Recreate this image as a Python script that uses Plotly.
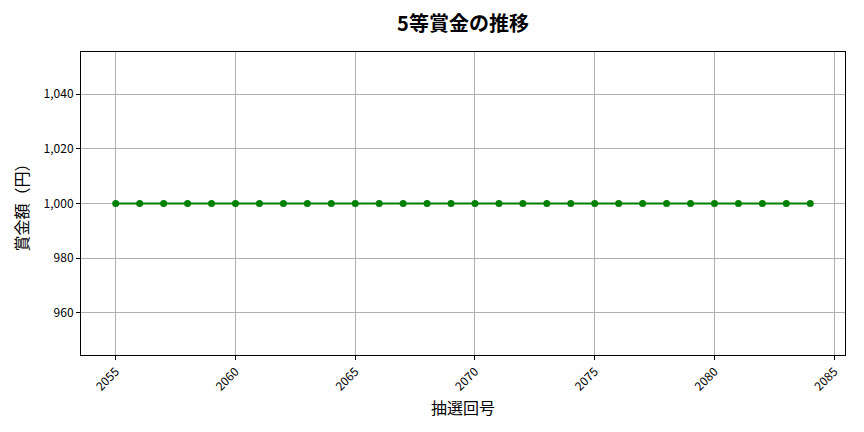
import plotly.graph_objects as go

# draw numbers and 5th prize amounts
draw_no = list(range(2055, 2085))
prize = [1000] * len(draw_no)

font_family = "Noto Sans CJK JP"

fig = go.Figure()
fig.add_trace(go.Scatter(x=draw_no, y=prize, mode='lines+markers',
                         line=dict(color='green', width=2),
                         marker=dict(color='green', size=7)))

axis_style = dict(showline=True, linecolor='black', linewidth=1, mirror=True,
                  showgrid=True, gridcolor='#b0b0b0', gridwidth=0.8,
                  ticks='outside', ticklen=4, tickcolor='black',
                  tickfont=dict(size=12, color='black', family=font_family),
                  zeroline=False, automargin=False)

# page body has an 8px margin, so the figure is sized to fit inside the window
fig.update_layout(
    width=848, height=416,
    margin=dict(l=73, r=11, t=44, b=69),
    plot_bgcolor='white', paper_bgcolor='white',
    showlegend=False,
    font=dict(family=font_family, color='black'),
    title=dict(text='<b>5等賞金の推移</b>', xref='paper', x=0.5, xanchor='center',
               y=1 - 16 / 416, yanchor='middle',
               font=dict(size=20, family=font_family, color='black')),
    xaxis=dict(axis_style, range=[2053.55, 2085.45], tickvals=[2055, 2060, 2065, 2070, 2075, 2080, 2085],
               tickangle=-45,
               title=dict(text='抽選回号', font=dict(size=16, family=font_family), standoff=10)),
    yaxis=dict(axis_style, range=[944.6, 1055.4], tickvals=[960, 980, 1000, 1020, 1040],
               tickformat=',d',
               title=dict(text='賞金額（円）', font=dict(size=16, family=font_family), standoff=11)),
)

fig.write_html("out.html")
